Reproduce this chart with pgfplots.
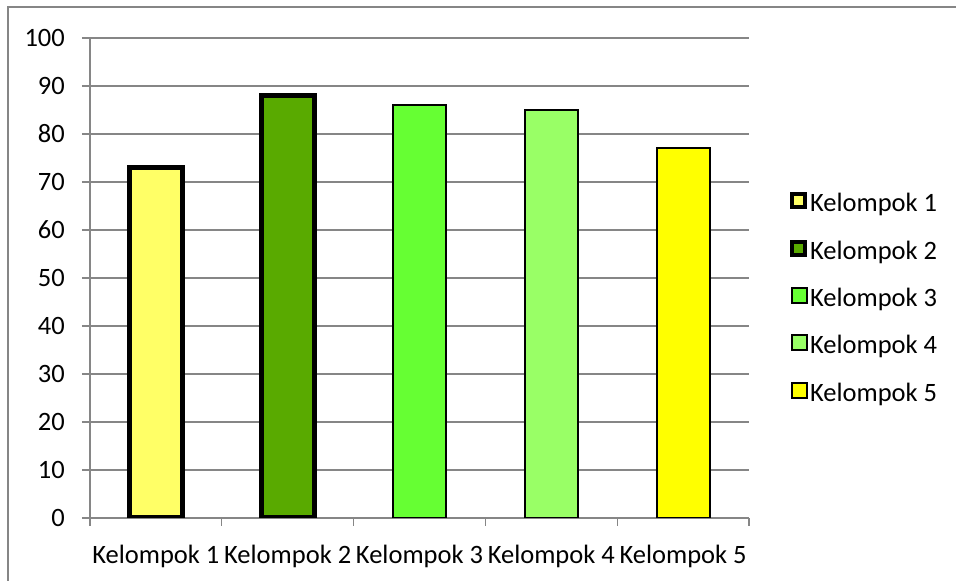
\documentclass[border=0pt]{standalone}
\usepackage{fontspec}
\setmainfont{Carlito}
\usepackage{pgfplots}
\pgfplotsset{compat=1.18}
\definecolor{gridgray}{HTML}{868686}
\definecolor{cA}{HTML}{FFFF66}
\definecolor{cB}{HTML}{59AA00}
\definecolor{cC}{HTML}{66FF33}
\definecolor{cD}{HTML}{99FF66}
\definecolor{cE}{HTML}{FFFF00}
\pgfplotsset{
  thicksq/.style={legend image code/.code={\draw[##1,line width=4pt] (0pt,-4pt) rectangle (13pt,9pt);}},
  thinsq/.style={legend image code/.code={\draw[##1,line width=2pt] (0pt,-5pt) rectangle (15pt,10pt);}},
}
\begin{document}
\begin{tikzpicture}[x=1pt,y=1pt]
\path[use as bounding box] (0pt,0pt) rectangle (956pt,581pt);
\draw[gridgray, line width=1.6pt] (8pt,0pt) -- (8pt,574pt) -- (956pt,574pt);
\begin{axis}[
  at={(90pt,63pt)}, anchor=south west,
  scale only axis, width=659pt, height=480pt,
  xmin=0.5, xmax=5.5, ymin=0, ymax=100,
  ytick={0,10,...,100},
  ymajorgrids, grid style={gridgray, line width=1.3pt},
  axis x line*=bottom, axis y line*=left,
  axis line style={gridgray, line width=1.3pt},
  tick style={gridgray, line width=1.3pt},
  major tick length=8pt, tick align=outside,
  xtick={0.5,1.5,...,5.5},
  x tick label as interval,
  xticklabels={Kelompok 1,Kelompok 2,Kelompok 3,Kelompok 4,Kelompok 5},
  /pgf/number format/assume math mode=true,
  ticklabel style={font=\fontsize{26.5}{30}\selectfont, text=black},
  yticklabel style={inner sep=0pt, xshift=-17pt},
  xticklabel style={inner sep=0pt, yshift=-19pt},
  legend style={draw=none, fill=none, at={(1.062,0.681)}, anchor=north west,
    font=\fontsize{26.5}{30}\selectfont, row sep=23.5pt, inner sep=0pt,
    /tikz/every even column/.append style={column sep=9pt}},
  legend cell align=left,
]
\addplot[ybar, bar width=53pt, bar shift=0pt, fill=cA, draw=black, line width=5pt, thicksq] coordinates {(1,73)};
\addlegendentry{Kelompok 1}
\addplot[ybar, bar width=53pt, bar shift=0pt, fill=cB, draw=black, line width=5pt, thicksq] coordinates {(2,88)};
\addlegendentry{Kelompok 2}
\addplot[ybar, bar width=53pt, bar shift=0pt, fill=cC, draw=black, line width=2pt, thinsq] coordinates {(3,86)};
\addlegendentry{Kelompok 3}
\addplot[ybar, bar width=53pt, bar shift=0pt, fill=cD, draw=black, line width=2pt, thinsq] coordinates {(4,85)};
\addlegendentry{Kelompok 4}
\addplot[ybar, bar width=53pt, bar shift=0pt, fill=cE, draw=black, line width=2pt, thinsq] coordinates {(5,77)};
\addlegendentry{Kelompok 5}
\end{axis}
\end{tikzpicture}
\end{document}
